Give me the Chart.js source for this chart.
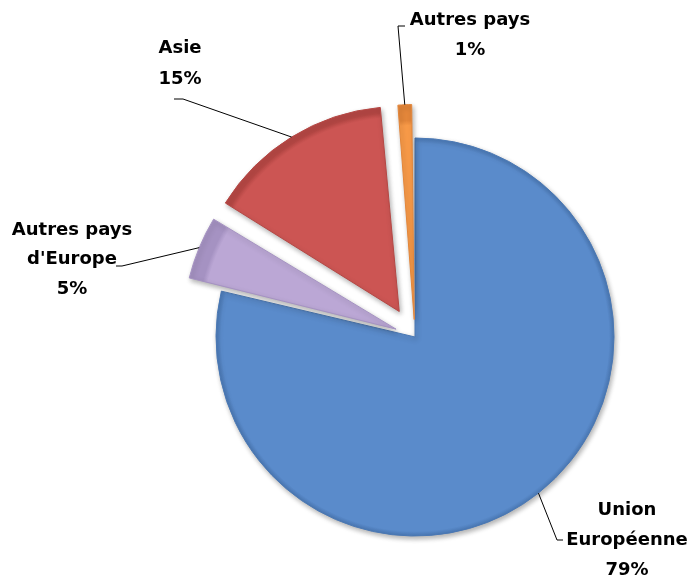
<!DOCTYPE html>
<html><head><meta charset="utf-8">
<script src="https://cdn.jsdelivr.net/npm/chart.js@4.4.1/dist/chart.umd.min.js"></script>
<style>html,body{margin:0;padding:0;background:#fff}#wrap{width:690px;height:576px;position:relative}</style>
</head><body><div id="wrap"><canvas id="c" width="690" height="576"></canvas></div>
<script>
const categories = ["Union Européenne", "Autres pays d'Europe", "Asie", "Autres pays"];
const labelLines = [["Union", "Européenne"], ["Autres pays", "d'Europe"], ["Asie"], ["Autres pays"]];
const values = [78.7, 5.1, 14.8, 1.4];

const baseColors = ['#5A8BCB', '#BBA7D5', '#CC5553', '#F89A48'];
const rimColors = ['#4A78B4', '#A592C2', '#B54744', '#E3863A'];
const explode = [0, 82, 120, 70];
const RADIUS = 199;

const labelLayout = [
  { text: [627, 510], lh: 30, elbow: [557, 540], end: [563, 540] },
  { text: [72, 230], lh: 29.5, elbow: [122, 266], end: [116, 266] },
  { text: [180, 48], lh: 31, elbow: [183, 99], end: [174, 99] },
  { text: [470, 20], lh: 30, elbow: [398, 26], end: [405, 26] }
];

const total = values.reduce((a, b) => a + b, 0);

const shadowPlugin = {
  id: 'shadow',
  beforeDatasetsDraw(chart) {
    const c = chart.ctx;
    c.save();
    c.shadowColor = 'rgba(0,0,0,0.3)';
    c.shadowBlur = 5;
    c.shadowOffsetX = 1.5;
    c.shadowOffsetY = 2.5;
  },
  afterDatasetsDraw(chart) { chart.ctx.restore(); }
};

const labelPlugin = {
  id: 'pieLabels',
  afterDraw(chart) {
    const ctx = chart.ctx;
    const meta = chart.getDatasetMeta(0);
    meta.data.forEach((arc, i) => {
      const p = arc.getProps(['x', 'y', 'startAngle', 'endAngle', 'outerRadius', 'circumference'], true);
      const off = (arc.options.offset || 0) / 4;
      const fix = 1 - Math.sin(Math.min(Math.PI, p.circumference || 0));
      const t = off * (1 + fix);
      const mid = (p.startAngle + p.endAngle) / 2;
      const ax = p.x + Math.cos(mid) * (t + p.outerRadius);
      const ay = p.y + Math.sin(mid) * (t + p.outerRadius);
      const L = labelLayout[i];
      ctx.save();
      ctx.strokeStyle = '#000';
      ctx.lineWidth = 1;
      ctx.beginPath();
      ctx.moveTo(ax, ay);
      ctx.lineTo(L.elbow[0], L.elbow[1]);
      ctx.lineTo(L.end[0], L.end[1]);
      ctx.stroke();
      ctx.fillStyle = '#000';
      ctx.font = 'bold 18px "DejaVu Sans", sans-serif';
      ctx.textAlign = 'center';
      ctx.textBaseline = 'middle';
      const lines = [...labelLines[i], Math.round(values[i] / total * 100) + '%'];
      lines.forEach((s, k) => ctx.fillText(s, L.text[0], L.text[1] + k * L.lh));
      ctx.restore();
    });
  }
};

new Chart(document.getElementById('c'), {
  type: 'pie',
  data: {
    labels: categories,
    datasets: [{
      data: values,
      offset: explode,
      backgroundColor: (c) => {
        const i = c.dataIndex;
        const chart = c.chart;
        const area = chart.chartArea;
        if (!area || i === undefined) return baseColors[i] || baseColors[0];
        const cx = (area.left + area.right) / 2, cy = (area.top + area.bottom) / 2;
        const g = chart.ctx.createRadialGradient(cx, cy, 0, cx, cy, RADIUS);
        g.addColorStop(0, baseColors[i]);
        g.addColorStop(0.975, baseColors[i]);
        g.addColorStop(1, rimColors[i]);
        return g;
      },
      borderColor: rimColors,
      borderWidth: 1
    }]
  },
  options: {
    responsive: false,
    animation: false,
    radius: RADIUS,
    layout: { padding: { left: 165, right: 25, top: 107, bottom: 9 } },
    plugins: { legend: { display: false }, tooltip: { enabled: false } }
  },
  plugins: [shadowPlugin, labelPlugin]
});
</script>
</body></html>
